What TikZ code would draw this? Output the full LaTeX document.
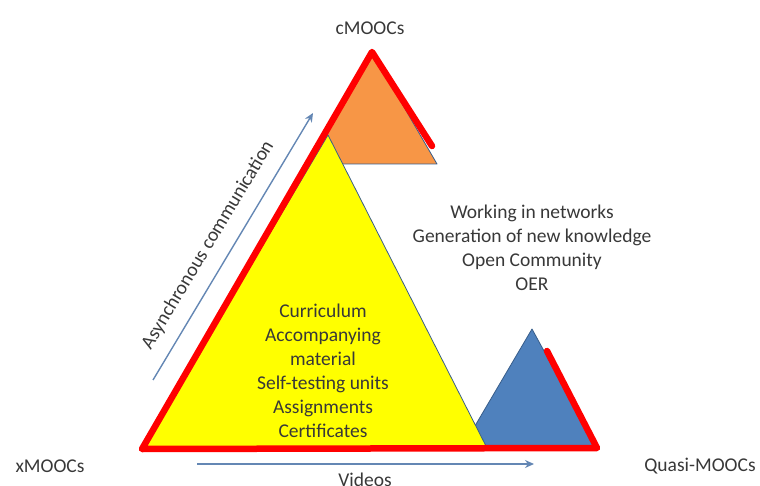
\documentclass[tikz,border=0pt]{standalone}
\usepackage{fontspec}
\setmainfont{Carlito}
\usetikzlibrary{arrows.meta}
\definecolor{shapeline}{RGB}{56,93,138}
\definecolor{cfill}{RGB}{247,150,70}
\definecolor{qfill}{RGB}{79,129,189}
\definecolor{xfill}{RGB}{255,255,0}
\definecolor{arrowblue}{RGB}{100,135,180}

\begin{document}
\begin{tikzpicture}
  [x=1pt,y=-1pt,
    every node/.style={font=\fontsize{19.5}{24}\selectfont,text=black!78,align=center,inner sep=0pt},
    tri/.style={draw=shapeline,line width=0.8pt,line join=round},
    rim/.style={draw=red,line width=6.5pt,line join=round,line cap=round},
    flow/.style={draw=arrowblue,line width=1.4pt,-{Stealth[length=9pt,width=8pt]}},
  ]
  \useasboundingbox (0,0) rectangle (760,486);
  % corners of the three triangles
  \coordinate (c top) at (372,52);
  \coordinate (c right) at (437,164);
  \coordinate (c left) at (307,164);
  \coordinate (c rim) at (432,146);
  \coordinate (q top) at (532,329);
  \coordinate (q right) at (597,448);
  \coordinate (q left) at (462,448);
  \coordinate (q rim) at (547,351);
  \coordinate (x top) at (328,135);
  \coordinate (x left) at (142,449);
  \coordinate (x right) at (487,448);

  \fill[cfill,tri] (c top) -- (c right) -- (c left) -- cycle;
  \fill[qfill,tri] (q top) -- (q right) -- (q left) -- cycle;
  \fill[xfill,tri] (x top) -- (x right) -- (x left) -- cycle;
  \draw[rim] (c rim) -- (c top) -- (x left) -- (q right) -- (q rim);

  % arrows
  \coordinate (async from) at (153,380);
  \coordinate (async to) at (313,113);
  \coordinate (video from) at (197,464);
  \coordinate (video to) at (534,464);
  \draw[flow] (async from) -- (async to);
  \draw[flow] (video from) -- (video to);

  \node (async) [rotate=59] at (208,245) {Asynchronous communication};
  \node (video) at (365,480) {Videos};

  \node (cmooc) at (370,28) {cMOOCs};
  \node (xmooc) at (50,466) {xMOOCs};
  \node (qmooc) at (700,466) {Quasi-MOOCs};

  \node (ctext) at (532,248) {Working in networks\\Generation of new knowledge\\Open Community\\OER};
  \node (xtext) at (323,371) {Curriculum\\Accompanying\\material\\Self-testing units\\Assignments\\Certificates};
\end{tikzpicture}
\end{document}
